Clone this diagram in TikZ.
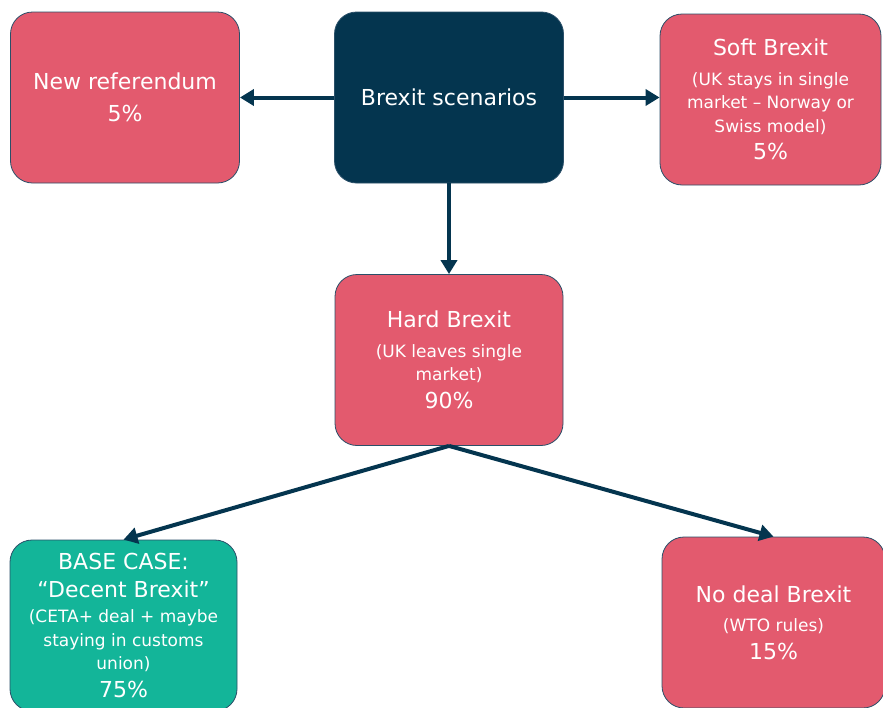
\documentclass[tikz,border=0pt]{standalone}
\usepackage{fontspec}
\setmainfont{DejaVu Sans}
\usepackage{xcolor}
\usetikzlibrary{arrows.meta}

\definecolor{brexitpink}{HTML}{E35A6E}
\definecolor{brexitnavy}{HTML}{04354F}
\definecolor{brexitteal}{HTML}{13B599}
\definecolor{brexitedge}{HTML}{2A4F68}
\newcommand{\headline}[1]{{\fontsize{22}{30}\selectfont #1}}

\begin{document}
\begin{tikzpicture}[x=1pt,y=-1pt,
    scenario/.style={draw=brexitedge,line width=0.8pt,rounded corners=22pt,
        minimum width=229pt,minimum height=171pt,inner sep=0pt,align=center,
        text=white,font=\fontsize{17}{23.5}\selectfont},
    branch/.style={draw=brexitnavy,line width=4pt,-{Triangle[length=14pt,width=16pt]}}]
    \useasboundingbox (0,0) rectangle (883,707);
    \clip (0,0) rectangle (883,707);

    \node[scenario,fill=brexitnavy] (scen) at (449,97.5) {\headline{Brexit scenarios}};
    \node[scenario,fill=brexitpink] (refer) at (125,97.5) {\headline{New referendum}\\[8pt]\headline{5\%}};
    \node[scenario,fill=brexitpink,minimum width=221pt] (soft) at (770.5,99.5)
        {\headline{Soft Brexit}\\[6pt](UK stays in single\\market – Norway or\\Swiss model)\\[4pt]\headline{5\%}};
    \node[scenario,fill=brexitpink,minimum width=228pt] (hard) at (449,360)
        {\headline{Hard Brexit}\\[6pt](UK leaves single\\market)\\[4pt]\headline{90\%}};
    \node[scenario,fill=brexitteal,minimum width=227pt] (base) at (123.5,625.5)
        {\headline{BASE CASE:}\\[4pt]\headline{“Decent Brexit”}\\[2pt](CETA+ deal + maybe\\staying in customs\\union)\\[4pt]\headline{75\%}};
    \node[scenario,fill=brexitpink,minimum width=223pt] (nodeal) at (773.5,622.5)
        {\headline{No deal Brexit}\\[6pt](WTO rules)\\[4pt]\headline{15\%}};

    \draw[branch] (scen.west) -- (refer.east);
    \draw[branch] (scen.east) -- (scen.east -| soft.west);
    \draw[branch] (scen.south) -- (hard.north);
    \draw[branch] (hard.south) -- (base.north);
    \draw[branch] (hard.south) -- (nodeal.north);
\end{tikzpicture}
\end{document}
